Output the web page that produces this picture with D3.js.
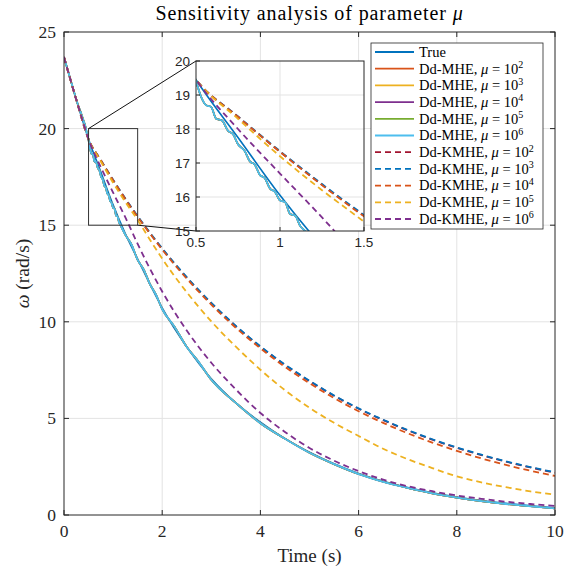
<!DOCTYPE html>
<html>
<head>
<meta charset="utf-8">
<script src="https://cdn.jsdelivr.net/npm/d3@7"></script>
<style>
  body { margin: 0; background: #fff; }
  svg { display: block; }
</style>
</head>
<body>
<div id="chart"></div>
<script>
// coarse time grid for the estimator curves
const tGrid = [0, 0.25, 0.5, 0.75, 1, 1.25, 1.5, 1.75, 2, 2.5, 3, 3.5, 4, 4.5, 5, 5.5, 6, 6.5, 7, 7.5, 8, 8.5, 9, 9.5, 10];

const trueVals  = [23.7, 21.5, 19.45, 17.75, 16.05, 14.55, 13.25, 11.95, 10.72, 8.7, 7.05, 5.8, 4.8, 3.95, 3.25, 2.65, 2.15, 1.75, 1.42, 1.15, 0.93, 0.75, 0.6, 0.48, 0.37];
const kmhe2Vals = [23.7, 21.5, 19.45, 18.36, 17.33, 16.36, 15.45, 14.59, 13.78, 12.29, 10.96, 9.77, 8.71, 7.77, 6.93, 6.17, 5.5, 4.91, 4.38, 3.9, 3.48, 3.1, 2.76, 2.46, 2.19];
const kmhe3Vals = [23.7, 21.5, 19.45, 18.37, 17.35, 16.38, 15.47, 14.61, 13.8, 12.31, 10.98, 9.79, 8.73, 7.79, 6.95, 6.19, 5.52, 4.93, 4.4, 3.92, 3.5, 3.12, 2.78, 2.48, 2.21];
const kmhe4Vals = [23.7, 21.5, 19.45, 18.36, 17.33, 16.35, 15.43, 14.57, 13.74, 12.23, 10.89, 9.69, 8.63, 7.67, 6.82, 6.05, 5.37, 4.77, 4.23, 3.75, 3.32, 2.93, 2.59, 2.29, 2.02];
const kmhe5Vals = [23.7, 21.5, 19.45, 18.3, 17.2, 16.2, 15.27, 14.25, 13.27, 11.53, 10.02, 8.71, 7.52, 6.46, 5.55, 4.77, 4.09, 3.43, 2.89, 2.43, 2.0, 1.69, 1.44, 1.22, 1.05];
const kmhe6Vals = [23.7, 21.5, 19.45, 18.0, 16.69, 15.4, 14.03, 12.75, 11.57, 9.55, 7.88, 6.5, 5.28, 4.3, 3.47, 2.81, 2.27, 1.83, 1.49, 1.23, 1.01, 0.84, 0.69, 0.57, 0.47];

// Dd-MHE runs overlap each other; finer sampling shows the ripple
const mheTimes = [0, 0.25, 0.5, 0.53, 0.56, 0.59, 0.62, 0.655, 0.69, 0.72, 0.75, 0.79, 0.82, 0.85, 0.88, 0.91, 0.94, 0.97, 1.0, 1.03, 1.06, 1.09, 1.12, 1.15,
  1.25, 1.375, 1.5, 1.625, 1.75, 1.875, 2, 2.25, 2.5, 2.75, 3, 3.5, 4, 4.5, 5, 5.5, 6, 6.5, 7, 7.5, 8, 8.5, 9, 9.5, 10];
const mheVals = [23.7, 21.5, 19.4, 18.95, 18.7, 18.65, 18.3, 18.25, 17.95, 17.85, 17.55, 17.35, 17.05, 16.95, 16.65, 16.55, 16.25, 16.15, 15.9, 15.85, 15.5, 15.45, 15.15, 15.0,
  14.5, 14.0, 13.2, 12.7, 11.95, 11.4, 10.65, 9.75, 8.7, 7.9, 7.0, 5.8, 4.75, 3.95, 3.22, 2.63, 2.12, 1.72, 1.4, 1.12, 0.9, 0.72, 0.57, 0.45, 0.34];

const xTicks = [0, 2, 4, 6, 8, 10];
const yTicks = [0, 5, 10, 15, 20, 25];
const xTicksInset = [0.5, 1, 1.5];
const yTicksInset = [15, 16, 17, 18, 19, 20];

const series = [
  {name: "True", mu: null, t: tGrid, v: trueVals, color: "#0072BD", dash: null, w: 1.6},
  {name: "Dd-MHE", mu: "2", t: mheTimes, v: mheVals, color: "#D95319", dash: null, w: 1.6},
  {name: "Dd-MHE", mu: "3", t: mheTimes, v: mheVals, color: "#EDB120", dash: null, w: 1.6},
  {name: "Dd-MHE", mu: "4", t: mheTimes, v: mheVals, color: "#7E2F8E", dash: null, w: 1.6},
  {name: "Dd-MHE", mu: "5", t: mheTimes, v: mheVals, color: "#77AC30", dash: null, w: 1.6},
  {name: "Dd-MHE", mu: "6", t: mheTimes, v: mheVals, color: "#4DBEEE", dash: null, w: 1.8},
  {name: "Dd-KMHE", mu: "2", t: tGrid, v: kmhe2Vals, color: "#A2142F", dash: "6,4", w: 1.8},
  {name: "Dd-KMHE", mu: "3", t: tGrid, v: kmhe3Vals, color: "#0072BD", dash: "6,4", w: 1.8},
  {name: "Dd-KMHE", mu: "4", t: tGrid, v: kmhe4Vals, color: "#D95319", dash: "6,4", w: 1.8},
  {name: "Dd-KMHE", mu: "5", t: tGrid, v: kmhe5Vals, color: "#EDB120", dash: "6,4", w: 1.8},
  {name: "Dd-KMHE", mu: "6", t: tGrid, v: kmhe6Vals, color: "#7E2F8E", dash: "6,4", w: 1.8}
];

const width = 579, height = 572;
const serif = "'Liberation Serif', 'Times New Roman', serif";
const sans = "'Liberation Sans', Arial, sans-serif";
const axisCol = "#262626", gridCol = "#e3e3e3";

const svg = d3.select("#chart").append("svg")
    .attr("width", width).attr("height", height);

const x = d3.scaleLinear().domain([0, 10]).range([64, 555]);
const y = d3.scaleLinear().domain([0, 25]).range([515, 32]);

const defs = svg.append("defs");
defs.append("clipPath").attr("id", "clipMain").append("rect")
    .attr("x", 64).attr("y", 32).attr("width", 491).attr("height", 483);

// grid
const g = svg.append("g");
g.selectAll(".gx").data(xTicks.slice(1, -1)).enter().append("line")
    .attr("x1", d => x(d)).attr("x2", d => x(d)).attr("y1", y(0)).attr("y2", y(25))
    .attr("stroke", gridCol).attr("stroke-width", 1);
g.selectAll(".gy").data(yTicks.slice(1, -1)).enter().append("line")
    .attr("x1", x(0)).attr("x2", x(10)).attr("y1", d => y(d)).attr("y2", d => y(d))
    .attr("stroke", gridCol).attr("stroke-width", 1);

function drawLines(parent, xs, ys, clipId) {
  const line = d3.line().curve(d3.curveMonotoneX);
  const lg = parent.append("g").attr("clip-path", "url(#" + clipId + ")");
  series.forEach(s => {
    const pts = s.t.map((t, i) => [xs(t), ys(s.v[i])]);
    lg.append("path")
      .attr("d", line(pts))
      .attr("fill", "none")
      .attr("stroke", s.color)
      .attr("stroke-width", s.w)
      .attr("stroke-dasharray", s.dash)
      .attr("stroke-linejoin", "round");
  });
}

drawLines(svg, x, y, "clipMain");

// axes (box with inward ticks)
const ax = svg.append("g").attr("font-family", serif).attr("font-size", 17.5).attr("fill", axisCol);
ax.append("rect").attr("x", x(0)).attr("y", y(25)).attr("width", x(10) - x(0)).attr("height", y(0) - y(25))
    .attr("fill", "none").attr("stroke", axisCol).attr("stroke-width", 1);
xTicks.forEach(d => {
  ax.append("line").attr("x1", x(d)).attr("x2", x(d)).attr("y1", y(0)).attr("y2", y(0) - 5).attr("stroke", axisCol);
  ax.append("line").attr("x1", x(d)).attr("x2", x(d)).attr("y1", y(25)).attr("y2", y(25) + 5).attr("stroke", axisCol);
  ax.append("text").attr("x", x(d)).attr("y", y(0) + 22).attr("text-anchor", "middle").text(d);
});
yTicks.forEach(d => {
  ax.append("line").attr("x1", x(0)).attr("x2", x(0) + 5).attr("y1", y(d)).attr("y2", y(d)).attr("stroke", axisCol);
  ax.append("line").attr("x1", x(10)).attr("x2", x(10) - 5).attr("y1", y(d)).attr("y2", y(d)).attr("stroke", axisCol);
  ax.append("text").attr("x", x(0) - 8).attr("y", y(d) + 6).attr("text-anchor", "end").text(d);
});

ax.append("text").attr("x", (x(0) + x(10)) / 2).attr("y", 562).attr("text-anchor", "middle")
    .attr("font-size", 19).text("Time (s)");
const yl = ax.append("text").attr("transform", "translate(29," + ((y(0) + y(25)) / 2) + ") rotate(-90)")
    .attr("text-anchor", "middle").attr("font-size", 19.5);
yl.append("tspan").attr("font-style", "italic").text("ω");
yl.append("tspan").text(" (rad/s)");

const title = ax.append("text").attr("x", (x(0) + x(10)) / 2).attr("y", 20).attr("text-anchor", "middle")
    .attr("font-size", 20).attr("letter-spacing", 0.9).attr("fill", "#000");
title.append("tspan").text("Sensitivity analysis of parameter ");
title.append("tspan").attr("font-style", "italic").text("μ");

// zoom rectangle + connectors
const xi = d3.scaleLinear().domain([0.5, 1.5]).range([196, 364]);
const yi = d3.scaleLinear().domain([15, 20]).range([231, 61]);

svg.append("rect").attr("x", x(0.5)).attr("y", y(20)).attr("width", x(1.5) - x(0.5)).attr("height", y(15) - y(20))
    .attr("fill", "none").attr("stroke", "#333").attr("stroke-width", 1);
svg.append("line").attr("x1", x(0.5)).attr("y1", y(20)).attr("x2", xi(0.5)).attr("y2", yi(20))
    .attr("stroke", "#111").attr("stroke-width", 1);
svg.append("line").attr("x1", x(1.5)).attr("y1", y(15)).attr("x2", xi(0.5)).attr("y2", yi(15))
    .attr("stroke", "#111").attr("stroke-width", 1);

// inset
defs.append("clipPath").attr("id", "clipInset").append("rect")
    .attr("x", xi(0.5)).attr("y", yi(20)).attr("width", xi(1.5) - xi(0.5)).attr("height", yi(15) - yi(20));
const ins = svg.append("g");
ins.append("rect").attr("x", xi(0.5)).attr("y", yi(20)).attr("width", xi(1.5) - xi(0.5)).attr("height", yi(15) - yi(20))
    .attr("fill", "#fff");
ins.selectAll(".igx").data(xTicksInset.slice(1, -1)).enter().append("line")
    .attr("x1", d => xi(d)).attr("x2", d => xi(d)).attr("y1", yi(15)).attr("y2", yi(20)).attr("stroke", gridCol);
ins.selectAll(".igy").data(yTicksInset.slice(1, -1)).enter().append("line")
    .attr("x1", xi(0.5)).attr("x2", xi(1.5)).attr("y1", d => yi(d)).attr("y2", d => yi(d)).attr("stroke", gridCol);
drawLines(ins, xi, yi, "clipInset");
ins.append("rect").attr("x", xi(0.5)).attr("y", yi(20)).attr("width", xi(1.5) - xi(0.5)).attr("height", yi(15) - yi(20))
    .attr("fill", "none").attr("stroke", axisCol).attr("stroke-width", 1);
const it = ins.append("g").attr("font-family", sans).attr("font-size", 13.5).attr("fill", axisCol);
xTicksInset.forEach(d => {
  it.append("line").attr("x1", xi(d)).attr("x2", xi(d)).attr("y1", yi(15)).attr("y2", yi(15) - 4).attr("stroke", axisCol);
  it.append("text").attr("x", xi(d)).attr("y", yi(15) + 16).attr("text-anchor", "middle").text(d);
});
yTicksInset.forEach(d => {
  it.append("line").attr("x1", xi(0.5)).attr("x2", xi(0.5) + 4).attr("y1", yi(d)).attr("y2", yi(d)).attr("stroke", axisCol);
  it.append("text").attr("x", xi(0.5) - 6).attr("y", yi(d) + 5).attr("text-anchor", "end").text(d);
});

// legend
const leg = svg.append("g").attr("font-family", serif).attr("font-size", 14.5).attr("fill", "#000");
leg.append("rect").attr("x", 371).attr("y", 43).attr("width", 172).attr("height", 186)
    .attr("fill", "#fff").attr("stroke", axisCol).attr("stroke-width", 0.8);
series.forEach((s, i) => {
  const cy = 52 + i * 16.7;
  leg.append("line").attr("x1", 375).attr("x2", 414).attr("y1", cy).attr("y2", cy)
    .attr("stroke", s.color).attr("stroke-width", 1.8).attr("stroke-dasharray", s.dash);
  const t = leg.append("text").attr("x", 419).attr("y", cy + 4.8);
  if (s.mu === null) { t.text(s.name); return; }
  t.append("tspan").text(s.name + ", ");
  t.append("tspan").attr("font-style", "italic").text("μ");
  t.append("tspan").text(" = 10");
  t.append("tspan").attr("font-size", 10).attr("dy", -5.5).text(s.mu);
});
</script>
</body>
</html>
